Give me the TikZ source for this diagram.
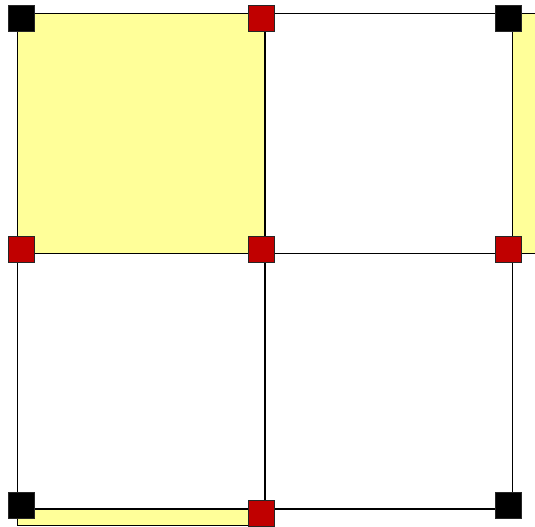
\documentclass[tikz,border=0pt]{standalone}
\usepackage{tikz}
\usetikzlibrary{positioning}
\definecolor{cellyellow}{RGB}{255, 255, 153}
\definecolor{dofred}{RGB}{192, 0, 0}

\begin{document}
\begin{tikzpicture}[
    x=0.5pt, y=-0.5pt,
    cell/.style={fill=cellyellow, draw=black, line width=0.65pt},
    gridline/.style={draw=black, line width=0.65pt},
    vtx/.style={rectangle, draw=black!85, line width=0.5pt, minimum size=13pt, inner sep=0pt},
    corner/.style={vtx, fill=black},
    mid/.style={vtx, fill=dofred}
]
    \useasboundingbox (0,0) rectangle (535,526);

    % Grid points
    \coordinate (a1) at (17.5,13.5);
    \coordinate (a2) at (265,13.5);
    \coordinate (a3) at (512.5,13.5);
    \coordinate (b1) at (17.5,253.3);
    \coordinate (b2) at (265,253.3);
    \coordinate (b3) at (512.5,253.3);
    \coordinate (c1) at (17.5,509);
    \coordinate (c2) at (265,509);
    \coordinate (c3) at (512.5,509);

    % Cells
    \fill[cellyellow] (a1) rectangle (b2);
    \fill[cellyellow] (a3) rectangle (535,253.3);
    \draw[cell] (c1) rectangle (265,525.5);

    % Grid
    \draw[gridline] (a1) -- (535,13.5);
    \draw[gridline] (b1) -- (535,253.3);
    \draw[gridline] (c1) -- (c3);
    \draw[gridline] (a1) -- (17.5,526);
    \draw[gridline] (a2) -- (265,526);
    \draw[gridline] (a3) -- (c3);

    % Nodes
    \node[corner] (tl) at (21.5,18) {};
    \node[mid] (tm) at (261,18) {};
    \node[corner] (tr) at (508,18) {};
    \node[mid] (ml) at (21.5,249) {};
    \node[mid] (mm) at (261,249) {};
    \node[mid] (mr) at (508.5,249) {};
    \node[corner] (bl) at (21.5,505) {};
    \node[mid] (bm) at (261,513.5) {};
    \node[corner] (br) at (508,505) {};
\end{tikzpicture}
\end{document}
